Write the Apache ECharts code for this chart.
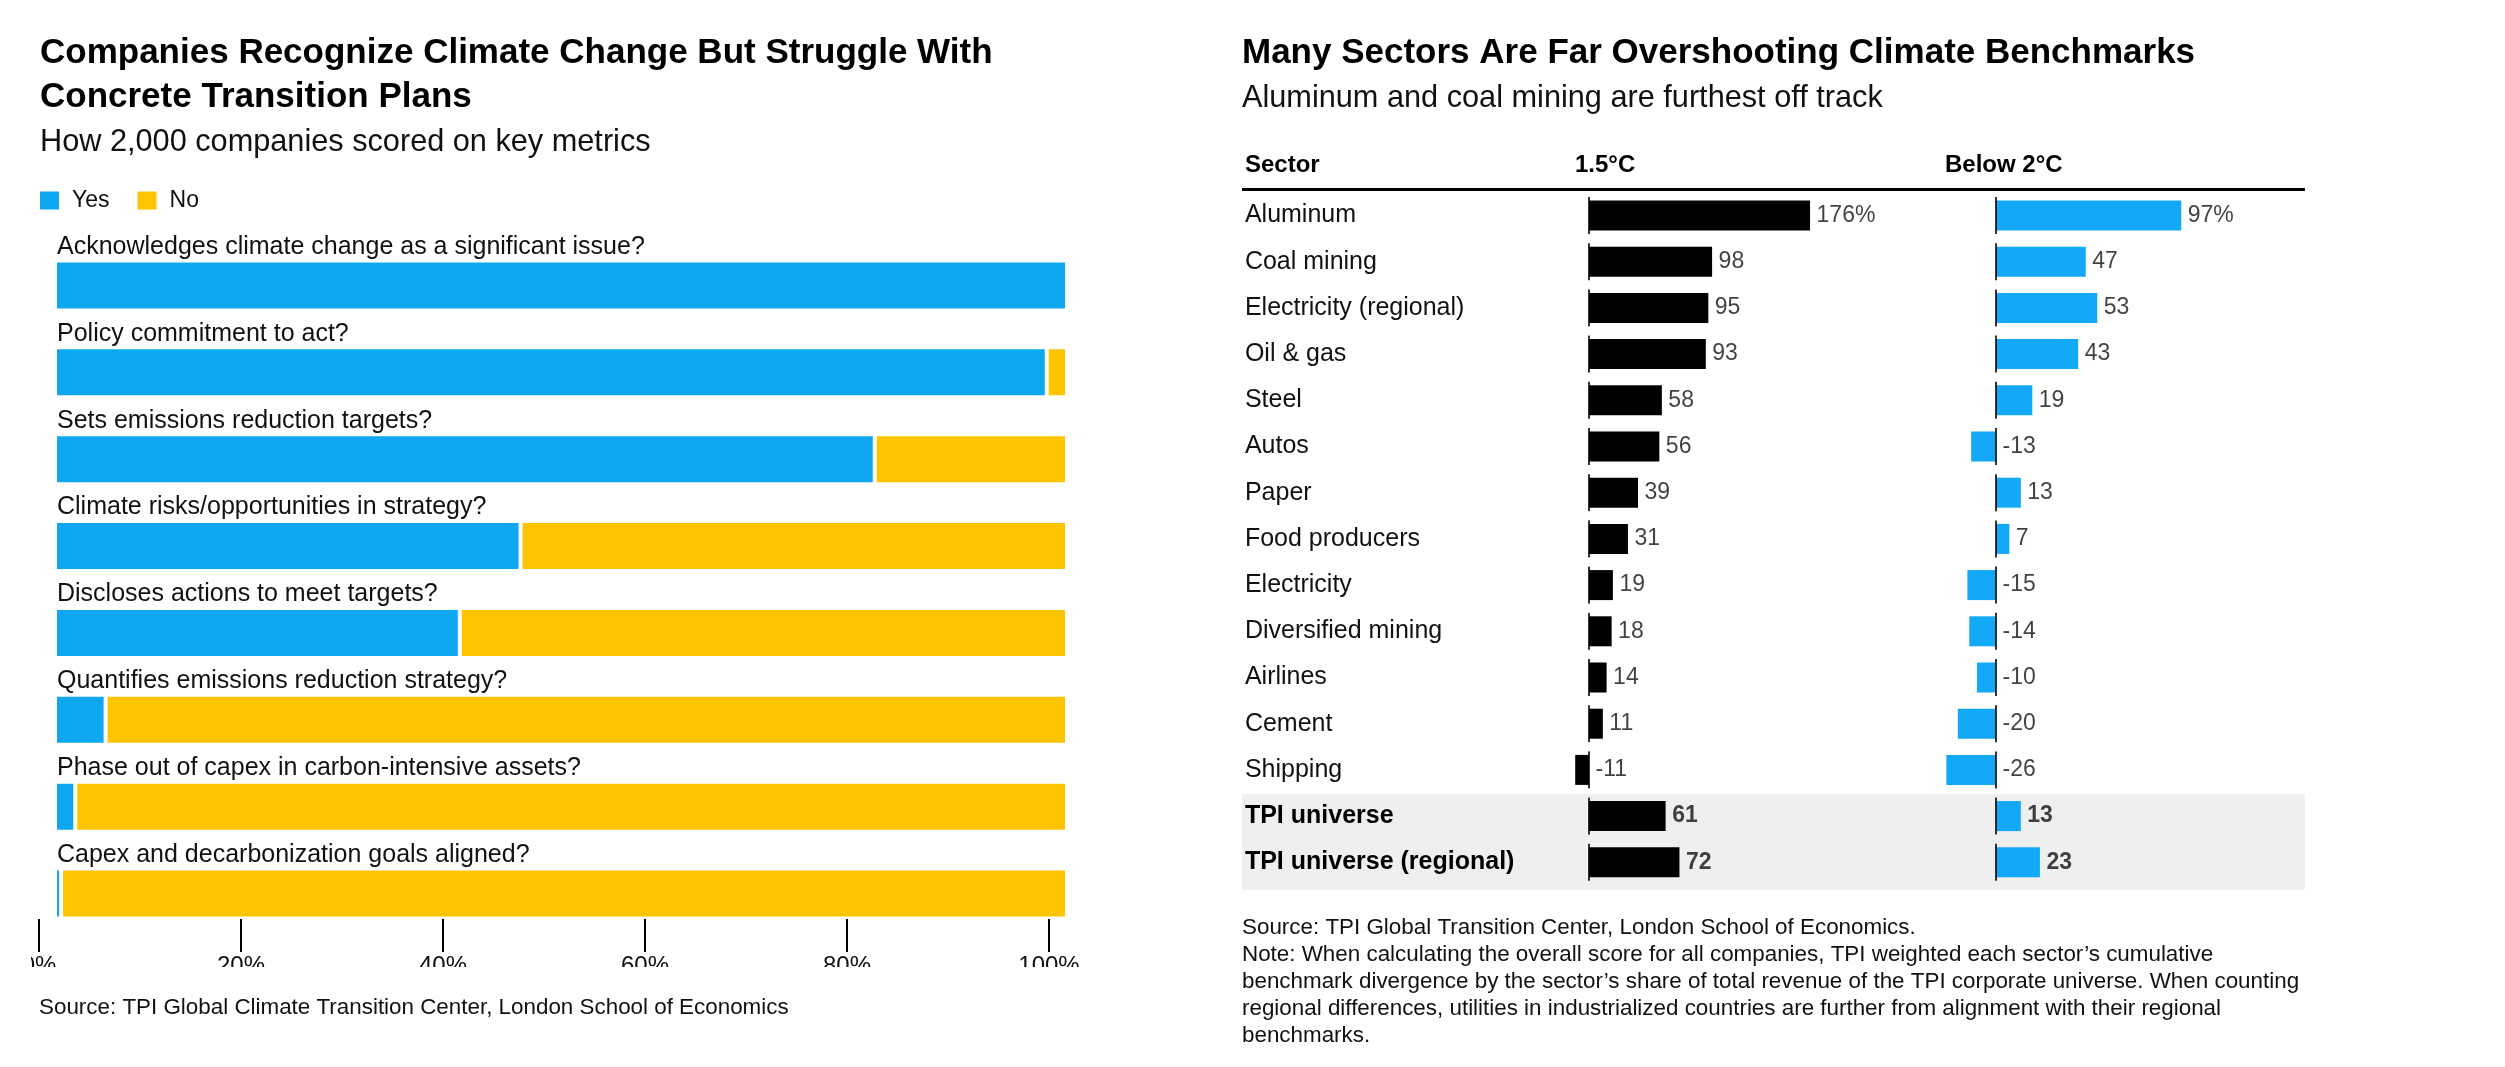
<!DOCTYPE html>
<html>
<head>
<meta charset="utf-8">
<script src="https://cdn.jsdelivr.net/npm/echarts/dist/echarts.min.js"></script>
<style>
html,body{margin:0;padding:0;background:#fff;}
#chart{width:2505px;height:1067px;}
</style>
</head>
<body>
<div id="chart"></div>
<script>
// ---------- Left chart data ----------
const leftTitle = 'Companies Recognize Climate Change But Struggle With\nConcrete Transition Plans';
const leftSubtitle = 'How 2,000 companies scored on key metrics';
const leftSource = 'Source: TPI Global Climate Transition Center, London School of Economics';
const metricCategories = [
  'Acknowledges climate change as a significant issue?',
  'Policy commitment to act?',
  'Sets emissions reduction targets?',
  'Climate risks/opportunities in strategy?',
  'Discloses actions to meet targets?',
  'Quantifies emissions reduction strategy?',
  'Phase out of capex in carbon-intensive assets?',
  'Capex and decarbonization goals aligned?'
];
const yesValues = [100, 98, 81, 46, 40, 5, 2, 0.6];
const noValues  = [0, 2, 19, 54, 60, 95, 98, 99.4];
const seriesNames = ['Yes', 'No'];

// ---------- Right chart data ----------
const rightTitle = 'Many Sectors Are Far Overshooting Climate Benchmarks';
const rightSubtitle = 'Aluminum and coal mining are furthest off track';
const rightNote = 'Source: TPI Global Transition Center, London School of Economics.\nNote: When calculating the overall score for all companies, TPI weighted each sector\u2019s cumulative\nbenchmark divergence by the sector\u2019s share of total revenue of the TPI corporate universe. When counting\nregional differences, utilities in industrialized countries are further from alignment with their regional\nbenchmarks.';
const columnHeaders = ['Sector', '1.5\u00B0C', 'Below 2\u00B0C'];
const sectors = [
  'Aluminum', 'Coal mining', 'Electricity (regional)', 'Oil & gas', 'Steel', 'Autos',
  'Paper', 'Food producers', 'Electricity', 'Diversified mining', 'Airlines', 'Cement',
  'Shipping', 'TPI universe', 'TPI universe (regional)'
];
const values15 = [176, 98, 95, 93, 58, 56, 39, 31, 19, 18, 14, 11, -11, 61, 72];
const valuesBelow2 = [97, 47, 53, 43, 19, -13, 13, 7, -15, -14, -10, -20, -26, 13, 23];
const highlightRows = ['TPI universe', 'TPI universe (regional)'];

// ---------- Styling ----------
const FONT = '"Liberation Sans", Arial, Helvetica, sans-serif';
const BLUE_L = '#0fa7ef';
const YELLOW = '#ffc400';
const BLUE_R = '#14a9f7';

function fmtVal(v, i) { return i === 0 ? v + '%' : String(v); }
function labelData(vals) {
  return vals.map((v, i) => ({
    value: [Math.max(v, 0), sectors[i]],
    label: {
      formatter: fmtVal(v, i),
      fontWeight: highlightRows.includes(sectors[i]) ? 'bold' : 'normal'
    }
  }));
}
function zeroData() { return sectors.map(s => [0, s]); }

const chart = echarts.init(document.getElementById('chart'), null, {renderer: 'canvas'});

const rowTop = 192.4, rowH = 693;

const option = {
  animation: false,
  backgroundColor: '#ffffff',
  textStyle: {fontFamily: FONT},
  title: [
    {text: leftTitle, left: 40, top: 31, padding: 0,
     textStyle: {fontFamily: FONT, fontSize: 35, fontWeight: 'bold', color: '#000', lineHeight: 44}},
    {text: leftSubtitle, left: 40, top: 127, padding: 0,
     textStyle: {fontFamily: FONT, fontSize: 30.7, fontWeight: 'normal', color: '#111', lineHeight: 31}},
    {text: leftSource, left: 39, top: 995, padding: 0,
     textStyle: {fontFamily: FONT, fontSize: 22.4, fontWeight: 'normal', color: '#111', lineHeight: 26}},
    {text: rightTitle, left: 1242, top: 31, padding: 0,
     textStyle: {fontFamily: FONT, fontSize: 35, fontWeight: 'bold', color: '#000', lineHeight: 44}},
    {text: rightSubtitle, left: 1242, top: 83, padding: 0,
     textStyle: {fontFamily: FONT, fontSize: 30.7, fontWeight: 'normal', color: '#111', lineHeight: 31}},
    {text: rightNote, left: 1242, top: 914, padding: 0,
     textStyle: {fontFamily: FONT, fontSize: 22.4, fontWeight: 'normal', color: '#111', lineHeight: 27}}
  ],
  legend: {
    left: 38, top: 189, padding: 0,
    itemWidth: 21, itemHeight: 20, itemGap: 26, icon: 'rect',
    data: seriesNames,
    selectedMode: false,
    textStyle: {fontFamily: FONT, fontSize: 23, color: '#111', padding: [0, 0, 0, 7]}
  },
  grid: [
    {left: 55, width: 1012, top: 242, height: 695},
    {left: 39, width: 1010, top: 902, height: 17},
    {left: 1563.9, width: 276.3, top: rowTop, height: rowH},
    {left: 1919.6, width: 305.6, top: rowTop, height: rowH}
  ],
  xAxis: [
    {gridIndex: 0, type: 'value', min: 0, max: 100, show: false},
    {gridIndex: 1, type: 'value', min: 0, max: 100, interval: 20,
     axisLine: {show: false},
     axisTick: {show: true, length: 33, lineStyle: {color: '#000', width: 2}},
     splitLine: {show: false},
     axisLabel: {show: true, formatter: '{value}%', margin: 35, fontSize: 24, color: '#111', fontFamily: FONT}},
    {gridIndex: 2, type: 'value', min: -20, max: 200, show: false},
    {gridIndex: 3, type: 'value', min: -40, max: 120, show: false}
  ],
  yAxis: [
    {gridIndex: 0, type: 'category', data: metricCategories, inverse: true, z: 6,
     axisLine: {show: false}, axisTick: {show: false}, splitLine: {show: false},
     axisLabel: {show: true, inside: true, margin: 2, align: 'left', verticalAlign: 'bottom',
       padding: [0, 0, 26, 0], fontSize: 25, lineHeight: 25, color: '#111', fontFamily: FONT}},
    {gridIndex: 1, type: 'value', show: false},
    {gridIndex: 2, type: 'category', data: sectors, inverse: true,
     axisLine: {show: false}, axisTick: {show: false}, splitLine: {show: false},
     axisLabel: {show: true, margin: 319, align: 'left', fontSize: 25, color: '#111', fontFamily: FONT,
       formatter: v => highlightRows.includes(v) ? '{b|' + v + '}' : v,
       rich: {b: {fontWeight: 'bold', fontSize: 25, color: '#000', fontFamily: FONT}}}},
    {gridIndex: 3, type: 'category', data: sectors, inverse: true, show: false}
  ],
  series: [
    {name: seriesNames[0], type: 'bar', stack: 'metric', xAxisIndex: 0, yAxisIndex: 0,
     data: yesValues, barWidth: 50, color: BLUE_L,
     itemStyle: {color: BLUE_L, borderColor: '#fff', borderWidth: 2}},
    {name: seriesNames[1], type: 'bar', stack: 'metric', xAxisIndex: 0, yAxisIndex: 0,
     data: noValues, barWidth: 50, color: YELLOW,
     itemStyle: {color: YELLOW, borderColor: '#fff', borderWidth: 2}},

    {name: columnHeaders[1], type: 'bar', xAxisIndex: 2, yAxisIndex: 2,
     data: values15, barWidth: 30, itemStyle: {color: '#000'}},
    {name: columnHeaders[1] + ' zero', type: 'scatter', xAxisIndex: 2, yAxisIndex: 2,
     data: zeroData(), symbol: 'rect', symbolSize: [2, 37], itemStyle: {color: '#000'}, z: 4},
    {name: columnHeaders[1] + ' labels', type: 'scatter', xAxisIndex: 2, yAxisIndex: 2,
     data: labelData(values15), symbolSize: 1, itemStyle: {color: 'rgba(0,0,0,0)'}, z: 5,
     label: {show: true, position: 'right', distance: 6, fontSize: 23, color: '#111', fontFamily: FONT}},

    {name: columnHeaders[2], type: 'bar', xAxisIndex: 3, yAxisIndex: 3,
     data: valuesBelow2, barWidth: 30, itemStyle: {color: BLUE_R}},
    {name: columnHeaders[2] + ' zero', type: 'scatter', xAxisIndex: 3, yAxisIndex: 3,
     data: zeroData(), symbol: 'rect', symbolSize: [2, 37], itemStyle: {color: '#000'}, z: 4},
    {name: columnHeaders[2] + ' labels', type: 'scatter', xAxisIndex: 3, yAxisIndex: 3,
     data: labelData(valuesBelow2), symbolSize: 1, itemStyle: {color: 'rgba(0,0,0,0)'}, z: 5,
     label: {show: true, position: 'right', distance: 6, fontSize: 23, color: '#111', fontFamily: FONT}}
  ],
  graphic: [
    {type: 'rect', z: 0, shape: {x: 1242, y: 794, width: 1063, height: 96}, style: {fill: '#efefef'}},
    {type: 'line', z: 10, shape: {x1: 1242, y1: 189.5, x2: 2305, y2: 189.5}, style: {stroke: '#000', lineWidth: 3}},
    {type: 'text', z: 10, x: 1245, y: 165, style: {text: columnHeaders[0], font: 'bold 24px ' + FONT, fill: '#000', textVerticalAlign: 'middle'}},
    {type: 'text', z: 10, x: 1575, y: 165, style: {text: columnHeaders[1], font: 'bold 24px ' + FONT, fill: '#000', textVerticalAlign: 'middle'}},
    {type: 'text', z: 10, x: 1945, y: 165, style: {text: columnHeaders[2], font: 'bold 24px ' + FONT, fill: '#000', textVerticalAlign: 'middle'}},
    // clipping masks that reproduce the cut-off axis labels of the original
    {type: 'rect', z: 100, shape: {x: 0, y: 967, width: 1150, height: 22}, style: {fill: '#fff'}},
    {type: 'rect', z: 100, shape: {x: 0, y: 947, width: 31, height: 22}, style: {fill: '#fff'}}
  ]
};
chart.setOption(option);
</script>
</body>
</html>
